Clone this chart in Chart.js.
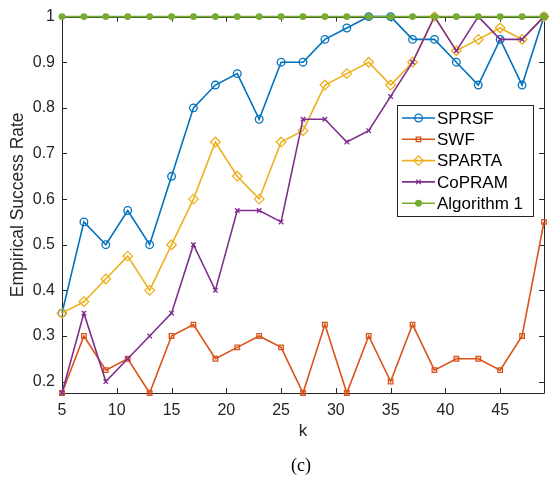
<!DOCTYPE html>
<html>
<head>
<meta charset="utf-8">
<script src="https://cdn.jsdelivr.net/npm/chart.js@4/dist/chart.umd.min.js"></script>
<style>
  html, body { margin: 0; padding: 0; background: #fff; }
  #wrap { width: 551px; height: 477px; }
</style>
</head>
<body>
<div id="wrap"><canvas id="grafico" width="551" height="477"></canvas></div>
<script>
// k values (x axis)
const kValues = [5, 7, 9, 11, 13, 15, 17, 19, 21, 23, 25, 27, 29, 31, 33, 35, 37, 39, 41, 43, 45, 47, 49];
const xTicks = [5, 10, 15, 20, 25, 30, 35, 40, 45];
const yTicks = [0.2, 0.3, 0.4, 0.5, 0.6, 0.7, 0.8, 0.9, 1];

// success rate per method
const sprsf  = [0.35, 0.55, 0.5, 0.575, 0.5, 0.65, 0.8, 0.85, 0.875, 0.775, 0.9, 0.9, 0.95, 0.975, 1, 1, 0.95, 0.95, 0.9, 0.85, 0.95, 0.85, 1];
const swf    = [0.175, 0.3, 0.225, 0.25, 0.175, 0.3, 0.325, 0.25, 0.275, 0.3, 0.275, 0.175, 0.325, 0.175, 0.3, 0.2, 0.325, 0.225, 0.25, 0.25, 0.225, 0.3, 0.55];
const sparta = [0.35, 0.375, 0.425, 0.475, 0.4, 0.5, 0.6, 0.725, 0.65, 0.6, 0.725, 0.75, 0.85, 0.875, 0.9, 0.85, 0.9, 1, 0.925, 0.95, 0.975, 0.95, 1];
const copram = [0.175, 0.35, 0.2, 0.25, 0.3, 0.35, 0.5, 0.4, 0.575, 0.575, 0.55, 0.775, 0.775, 0.725, 0.75, 0.825, 0.9, 1, 0.925, 1, 0.95, 0.95, 1];
const alg1   = [1, 1, 1, 1, 1, 1, 1, 1, 1, 1, 1, 1, 1, 1, 1, 1, 1, 1, 1, 1, 1, 1, 1];

const eixoCor = '#262626';
const fonte = "'Liberation Sans', Arial, Helvetica, sans-serif";

function serie(label, valores, cor, estilo, raio, ordem) {
    return {
        label: label,
        data: valores.map((v, i) => ({ x: kValues[i], y: v })),
        borderColor: cor,
        backgroundColor: estilo === 'circle-filled' ? cor : 'rgba(255,255,255,0)',
        pointStyle: estilo === 'circle-filled' ? 'circle' : estilo,
        pointRadius: raio,
        pointBorderWidth: 1.3,
        pointBorderColor: cor,
        pointBackgroundColor: estilo === 'circle-filled' ? cor : 'rgba(255,255,255,0)',
        borderWidth: 1.6,
        tension: 0,
        clip: false,
        order: ordem
    };
}

const datasets = [
    serie('SPRSF', sprsf, '#0072BD', 'circle', 3.8, 5),
    serie('SWF', swf, '#D95319', 'rect', 3.2, 4),
    serie('SPARTA', sparta, '#EDB120', 'rectRot', 4.8, 3),
    serie('CoPRAM', copram, '#7E2F8E', 'crossRot', 3.2, 2),
    serie('Algorithm 1', alg1, '#77AC30', 'circle-filled', 2.8, 1)
];

// marker drawn inside the legend box
function desenhaMarcador(ctx, ds, x, y) {
    const r = ds.pointRadius;
    ctx.save();
    ctx.strokeStyle = ds.borderColor;
    ctx.fillStyle = ds.pointBackgroundColor;
    ctx.lineWidth = ds.pointBorderWidth;
    ctx.beginPath();
    if (ds.pointStyle === 'circle') {
        ctx.arc(x, y, r, 0, Math.PI * 2);
        ctx.fill();
        ctx.stroke();
    } else if (ds.pointStyle === 'rect') {
        const s = r * Math.SQRT1_2;
        ctx.rect(x - s, y - s, 2 * s, 2 * s);
        ctx.fill();
        ctx.stroke();
    } else if (ds.pointStyle === 'rectRot') {
        ctx.moveTo(x - r, y);
        ctx.lineTo(x, y - r);
        ctx.lineTo(x + r, y);
        ctx.lineTo(x, y + r);
        ctx.closePath();
        ctx.fill();
        ctx.stroke();
    } else if (ds.pointStyle === 'crossRot') {
        const s = r * Math.SQRT1_2;
        ctx.moveTo(x - s, y - s);
        ctx.lineTo(x + s, y + s);
        ctx.moveTo(x + s, y - s);
        ctx.lineTo(x - s, y + s);
        ctx.stroke();
    }
    ctx.restore();
}

// axes box with inward tick marks (drawn under the lines)
const caixaEixos = {
    id: 'caixaEixos',
    beforeDatasetsDraw(chart) {
        const { ctx, chartArea: a, scales } = chart;
        const tam = 5;
        ctx.save();
        ctx.strokeStyle = eixoCor;
        ctx.lineWidth = 1;
        ctx.beginPath();
        ctx.rect(Math.round(a.left) + 0.5, Math.round(a.top) + 0.5,
                 Math.round(a.right - a.left), Math.round(a.bottom - a.top));
        xTicks.forEach(v => {
            const px = Math.round(scales.x.getPixelForValue(v)) + 0.5;
            ctx.moveTo(px, a.bottom);
            ctx.lineTo(px, a.bottom - tam);
            ctx.moveTo(px, a.top);
            ctx.lineTo(px, a.top + tam);
        });
        yTicks.forEach(v => {
            const py = Math.round(scales.y.getPixelForValue(v)) + 0.5;
            ctx.moveTo(a.left, py);
            ctx.lineTo(a.left + tam, py);
            ctx.moveTo(a.right, py);
            ctx.lineTo(a.right - tam, py);
        });
        ctx.stroke();
        ctx.restore();
    }
};

// legend box in the upper right and the figure caption
const legendaCaixa = {
    id: 'legendaCaixa',
    afterDatasetsDraw(chart) {
        const ctx = chart.ctx;
        const x0 = 397, y0 = 105, w = 136, h = 111;
        ctx.save();
        ctx.fillStyle = '#ffffff';
        ctx.fillRect(x0, y0, w, h);
        ctx.strokeStyle = eixoCor;
        ctx.lineWidth = 1;
        ctx.strokeRect(x0 + 0.5, y0 + 0.5, w, h);
        ctx.font = '17px ' + fonte;
        ctx.textBaseline = 'middle';
        ctx.textAlign = 'left';
        chart.data.datasets.forEach((ds, i) => {
            const y = y0 + 13 + i * 21.3;
            ctx.strokeStyle = ds.borderColor;
            ctx.lineWidth = ds.borderWidth;
            ctx.beginPath();
            ctx.moveTo(x0 + 5, y);
            ctx.lineTo(x0 + 38, y);
            ctx.stroke();
            desenhaMarcador(ctx, ds, x0 + 21.5, y);
            ctx.fillStyle = '#000000';
            ctx.fillText(ds.label, x0 + 40, y + 1);
        });

        ctx.font = "18px 'Liberation Serif', 'Times New Roman', serif";
        ctx.textAlign = 'center';
        ctx.fillStyle = '#000000';
        ctx.fillText('(c)', 301, 466);
        ctx.restore();
    }
};

const ctx = document.getElementById('grafico').getContext('2d');
new Chart(ctx, {
    type: 'line',
    data: { datasets: datasets },
    options: {
        responsive: false,
        animation: false,
        layout: {
            padding: { top: 16, right: 7, left: 0, bottom: 0 }
        },
        scales: {
            x: {
                type: 'linear',
                min: 5,
                max: 49,
                grid: { display: false, drawTicks: false },
                border: { display: false },
                afterBuildTicks: axis => { axis.ticks = xTicks.map(v => ({ value: v })); },
                afterFit: scale => { scale.height = 84; },
                ticks: {
                    color: eixoCor,
                    padding: 8,
                    maxRotation: 0,
                    font: { size: 16, family: fonte }
                },
                title: {
                    display: true,
                    text: 'k',
                    color: eixoCor,
                    font: { size: 17, family: fonte },
                    padding: { top: 0, bottom: 35 }
                }
            },
            y: {
                min: 0.175,
                max: 1,
                grid: { display: false, drawTicks: false },
                border: { display: false },
                afterBuildTicks: axis => { axis.ticks = yTicks.map(v => ({ value: v })); },
                afterFit: scale => { scale.width = 62; },
                ticks: {
                    color: eixoCor,
                    padding: 7,
                    font: { size: 16, family: fonte },
                    callback: value => value === 1 ? '1' : value.toFixed(1)
                },
                title: {
                    display: true,
                    text: 'Empirical Success Rate',
                    color: eixoCor,
                    font: { size: 17.5, family: fonte },
                    padding: { top: 8, bottom: 0 }
                }
            }
        },
        plugins: {
            legend: { display: false },
            tooltip: { enabled: false },
            title: { display: false }
        }
    },
    plugins: [caixaEixos, legendaCaixa]
});
</script>
</body>
</html>
